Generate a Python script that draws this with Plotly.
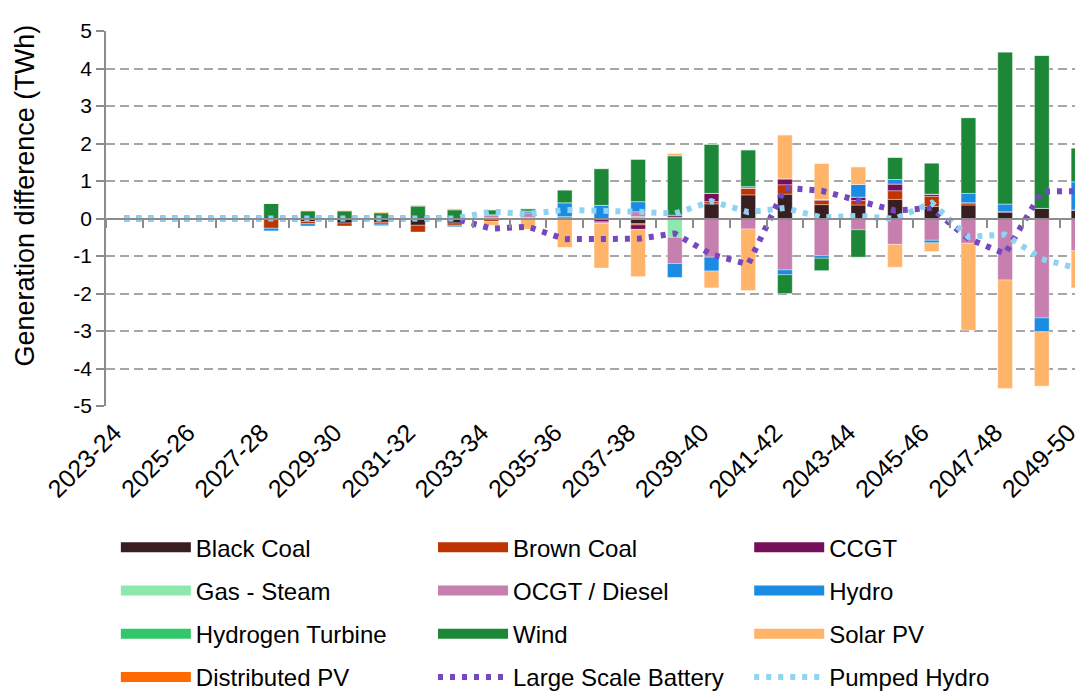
import plotly.graph_objects as go

categories = ["2023-24", "2024-25", "2025-26", "2026-27", "2027-28", "2028-29", "2029-30",
              "2030-31", "2031-32", "2032-33", "2033-34", "2034-35", "2035-36", "2036-37",
              "2037-38", "2038-39", "2039-40", "2040-41", "2041-42", "2042-43", "2043-44",
              "2044-45", "2045-46", "2046-47", "2047-48", "2048-49", "2049-50"]

black_coal = [0, 0, 0, 0, 0, -0.08, -0.12, -0.10, -0.18, -0.12, -0.03, -0.02, 0, 0, -0.14,
              0.02, 0.39, 0.63, 0.65, 0.37, 0.36, 0.51, 0.32, 0.36, 0.18, 0.27, 0.23]
brown_coal = [0, 0, 0, 0, -0.26, -0.06, -0.08, -0.05, -0.18, -0.06, -0.05, 0, 0, 0, -0.03,
              0.02, 0.06, 0.18, 0.25, 0.11, 0.12, 0.23, 0.27, 0.06, 0, 0, 0]
ccgt = [0, 0, 0, 0, 0, 0, 0, 0, 0, 0, 0.02, 0.03, 0, -0.09, -0.12,
        0.05, 0.22, 0, 0.16, 0.03, 0.09, 0.18, 0.06, 0, 0, 0, 0]
gas_steam = [0, 0, 0, 0, 0, 0, 0, 0, 0, 0, 0, 0, 0, 0, 0.05,
             -0.50, 0, 0, 0, 0, 0, 0, 0, 0, 0, 0, 0]
ocgt_diesel = [0, 0, 0, 0, 0, 0, 0, 0, 0, 0, 0.08, 0.12, 0.05, -0.04, 0.13,
               -0.70, -1.03, -0.28, -1.37, -0.99, -0.30, -0.69, -0.58, -0.66, -1.64, -2.65, -0.86]
hydro = [0, 0, 0, 0, -0.07, -0.06, 0, -0.04, 0, -0.04, 0, 0.05, 0.37, 0.35, 0.27,
         -0.37, -0.37, 0.04, -0.13, -0.07, 0.34, 0.12, -0.07, 0.25, 0.21, -0.37, 0.75]
hydrogen_turbine = [0] * 27
wind = [0, 0, 0, 0, 0.40, 0.20, 0.20, 0.15, 0.33, 0.23, 0.13, 0.06, 0.34, 0.98, 1.13,
        1.58, 1.31, 0.98, -0.50, -0.33, -0.73, 0.59, 0.83, 2.02, 4.05, 4.08, 0.90]
solar_pv = [0, 0, 0, 0, 0, 0.02, 0.02, 0.03, 0.03, 0.035, -0.10, -0.26, -0.77, -1.19, -1.26,
            0.07, -0.45, -1.64, 1.17, 0.96, 0.47, -0.61, -0.23, -2.32, -2.89, -1.45, -0.99]
distributed_pv = [0] * 27

large_scale_battery = [0, 0, 0, 0, 0, 0, 0, 0, 0, 0, -0.27, -0.22, -0.55, -0.56, -0.54,
                       -0.40, -0.96, -1.22, 0.82, 0.74, 0.47, 0.21, 0.28, -0.54, -0.94, 0.72, 0.73]
pumped_hydro = [0, 0, 0, 0, 0, 0, 0, 0, 0, 0, 0.18, 0.12, 0.23, 0.22, 0.18,
                0.13, 0.46, 0.17, 0.28, 0.03, 0.07, -0.01, 0.42, -0.49, -0.43, -1.08, -1.34]

y_tick_vals = [-5, -4, -3, -2, -1, 0, 1, 2, 3, 4, 5]
y_tick_text = ["-5", "-4", "-3", "-2", "-1", "0", "1", "2", "3", "4", "5"]
y_title = "Generation difference (TWh)"

bar_series = [
    ("Black Coal", black_coal, "#381E20"),
    ("Brown Coal", brown_coal, "#BF3300"),
    ("CCGT", ccgt, "#760F5A"),
    ("Gas - Steam", gas_steam, "#8DE8AE"),
    ("OCGT / Diesel", ocgt_diesel, "#C77FAF"),
    ("Hydro", hydro, "#1A8CE3"),
    ("Hydrogen Turbine", hydrogen_turbine, "#33C76B"),
    ("Wind", wind, "#1B8737"),
    ("Solar PV", solar_pv, "#FFB469"),
    ("Distributed PV", distributed_pv, "#FF6A00"),
]
line_series = [
    ("Large Scale Battery", large_scale_battery, "#7547C1"),
    ("Pumped Hydro", pumped_hydro, "#8ED4F2"),
]
legend_columns = [
    ["Black Coal", "Gas - Steam", "Hydrogen Turbine", "Distributed PV"],
    ["Brown Coal", "OCGT / Diesel", "Wind", "Large Scale Battery"],
    ["CCGT", "Hydro", "Solar PV", "Pumped Hydro"],
]
legend_ids = ["legend", "legend2", "legend3"]
legend_of = {name: legend_ids[c] for c, col in enumerate(legend_columns) for name in col}
bar_lookup = {name: (vals, color) for name, vals, color in bar_series}

FONT = "Liberation Sans, Arial, sans-serif"
GRID = "#A6A6A6"
AXIS = "#8C8C8C"
x_idx = list(range(len(categories)))
x_range = [-0.5, 26.34]

fig = go.Figure()

for name, vals, color in bar_series:
    fig.add_trace(go.Bar(
        x=x_idx, y=vals, name=name, marker_color=color,
        marker_line=dict(color="rgba(255,255,255,0.45)", width=0.8),
        showlegend=False, hoverinfo="name+y",
    ))

# legend swatches for the bar series, added column by column in legend order
for col in legend_columns:
    for name in col:
        if name in bar_lookup:
            fig.add_trace(go.Scatter(
                x=[None], y=[None], name=name, mode="lines",
                line=dict(color=bar_lookup[name][1], width=16),
                legend=legend_of[name], legendgroup=name, hoverinfo="skip",
            ))

dash = "5px,7px"
for name, vals, color in line_series:
    fig.add_trace(go.Scatter(
        x=x_idx, y=vals, name=name, mode="lines",
        line=dict(color=color, width=6, dash=dash),
        legend=legend_of[name], legendgroup=name,
    ))

# helper trace so the zero-line axis is drawn
fig.add_trace(go.Scatter(x=[None], y=[None], xaxis="x2", showlegend=False, hoverinfo="skip"))

col_x = [0.010, 0.332, 0.653]
legend_common = dict(
    orientation="v", xanchor="left", yanchor="top", y=-0.318,
    font=dict(family=FONT, size=24, color="black"),
    itemwidth=70, tracegroupgap=9, traceorder="grouped",
    bgcolor="rgba(0,0,0,0)", borderwidth=0,
)

fig.update_layout(
    width=1083, height=693,
    margin=dict(l=98, r=0, t=23, b=295, autoexpand=False),
    paper_bgcolor="white", plot_bgcolor="white",
    barmode="relative", bargap=0.6,
    font=dict(family=FONT, color="black"),
    legend=dict(x=col_x[0], **legend_common),
    legend2=dict(x=col_x[1], **legend_common),
    legend3=dict(x=col_x[2], **legend_common),
    xaxis=dict(
        range=x_range, tickmode="array", tickvals=x_idx[::2], ticktext=categories[::2],
        tickangle=-45, ticks="", showline=False, showgrid=False, zeroline=False,
        ticklabelshift=-10, ticklabelstandoff=6,
        tickfont=dict(family=FONT, size=25, color="black"),
    ),
    xaxis2=dict(
        overlaying="x", anchor="free", position=0.5, side="bottom", range=x_range,
        tickmode="array", tickvals=[i - 0.5 for i in range(len(categories) + 1)],
        ticks="outside", ticklen=8, tickwidth=1.5, tickcolor=AXIS,
        showticklabels=False, showline=True, linecolor=AXIS, linewidth=2,
        showgrid=False, zeroline=False,
    ),
    yaxis=dict(
        range=[-5, 5], tickmode="array", tickvals=y_tick_vals, ticktext=y_tick_text,
        ticks="outside", ticklen=8, tickwidth=1.5, tickcolor=AXIS,
        showline=True, linecolor=AXIS, linewidth=1.5,
        showgrid=True, gridcolor=GRID, gridwidth=1.5, griddash="9px,5px",
        zeroline=False,
        tickfont=dict(family=FONT, size=21, color="black"),
    ),
    annotations=[dict(
        text=y_title, textangle=-90, xref="paper", yref="paper",
        x=-0.082, y=0.562, xanchor="center", yanchor="middle", showarrow=False,
        font=dict(family=FONT, size=27, color="black"),
    )],
)

fig.write_html("out.html")
